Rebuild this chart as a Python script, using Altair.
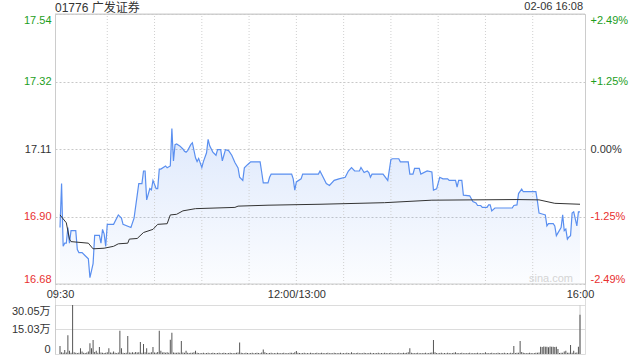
import altair as alt
import pandas as pd

# ---------------- data ----------------
price_minutes = [0,1,2,3,4,5,6,7,9,10,11,12,14,16,18,19,21,22,25,26,27,28,29,30,32,34,37,39,40,45,47,49,50,52,53,54,55,57,58,59,61,62,63,64,67,68,70,71,72,73,74,76,78,79,80,81,83,84,86,87,88,90,91,93,94,95,97,99,100,102,103,104,105,107,109,111,113,114,116,117,119,121,127,128,129,132,133,134,147,148,149,150,153,154,164,165,167,169,171,174,177,181,183,185,187,190,191,193,195,196,197,198,205,208,210,211,215,216,221,222,224,225,228,229,233,236,237,239,241,243,246,247,251,252,253,255,256,260,262,264,265,267,268,271,272,273,274,276,287,288,290,291,293,294,302,303,304,306,308,309,310,313,314,315,318,319,320,321,322,323,324,325,326,328,329,330]
price_values = [16.86,17.00,16.80,16.81,16.81,16.86,16.81,16.85,16.85,16.85,16.79,16.78,16.78,16.77,16.76,16.70,16.745,16.835,16.835,16.81,16.854,16.84,16.80,16.87,16.87,16.87,16.90,16.89,16.87,16.86,16.89,16.963,17.00,17.00,17.04,17.04,16.948,16.984,16.98,17.01,16.984,16.984,17.046,17.046,17.056,17.05,17.056,17.175,17.072,17.124,17.126,17.12,17.11,17.103,17.10,17.105,17.124,17.13,17.082,17.07,17.08,17.051,17.07,17.098,17.141,17.12,17.10,17.09,17.108,17.108,17.072,17.09,17.108,17.105,17.09,17.067,17.05,17.02,17.01,17.05,17.06,17.069,17.069,17.036,17.002,17.002,17.02,17.03,17.03,17.015,16.979,17.005,17.015,17.03,17.03,17.04,17.02,17.00,16.994,17.01,17.015,17.02,17.04,17.051,17.04,17.04,17.051,17.035,17.04,17.035,17.02,17.03,17.03,17.01,17.077,17.079,17.079,17.069,17.069,17.03,17.03,17.048,17.048,17.03,17.04,17.037,16.979,16.983,17.02,17.015,17.015,17.01,17.01,16.989,17.01,17.01,16.963,16.961,16.943,16.938,16.93,16.93,16.924,16.924,16.932,16.932,16.913,16.922,16.922,16.93,16.932,16.968,16.982,16.974,16.974,16.943,16.906,16.903,16.90,16.865,16.872,16.872,16.865,16.834,16.86,16.90,16.85,16.855,16.823,16.83,16.834,16.906,16.91,16.865,16.91,16.91]

avg_minutes = [0,4,6,7,18,21,28,34,37,43,44,49,53,59,62,68,70,74,78,86,111,113,132,165,206,236,290,304,314,330]
avg_values = [16.90,16.875,16.823,16.815,16.81,16.792,16.794,16.80,16.808,16.81,16.823,16.825,16.844,16.854,16.87,16.872,16.90,16.902,16.913,16.92,16.924,16.928,16.931,16.934,16.939,16.947,16.949,16.948,16.937,16.934]

# volume per minute, in 万 (10k shares), minute 0 .. 330
volume_wan = [
    4.9, 1.0, 0.8, 2.5, 0.9, 11.5, 2.0, 0.8, 30.0, 1.0,
    0.7, 0.6, 0.8, 3.5, 1.5, 0.7, 0.6, 0.9, 1.5, 6.6,
    3.5, 8.6, 1.2, 2.0, 0.8, 4.3, 0.9, 0.7, 0.6, 0.8,
    1.0, 3.5, 0.9, 0.8, 1.5, 0.7, 0.6, 0.9, 14.2, 3.5,
    0.8, 0.6, 0.7, 11.0, 0.9, 0.7, 1.0, 0.8, 1.2, 0.9,
    1.0, 7.4, 0.8, 6.2, 1.0, 3.5, 0.8, 0.7, 1.0, 4.3,
    0.9, 0.8, 1.2, 14.2, 2.0, 0.9, 1.0, 0.8, 1.0, 0.7,
    8.8, 13.1, 0.9, 0.8, 0.7, 0.9, 0.8, 8.0, 0.9, 0.8,
    2.0, 0.7, 0.6, 0.8, 0.7, 1.0, 2.0, 0.7, 0.6, 0.5,
    0.6, 0.7, 0.5, 0.6, 0.7, 0.5, 0.6, 0.7, 0.6, 0.5,
    0.6, 0.7, 0.5, 0.6, 0.7, 0.6, 0.5, 0.6, 0.8, 0.6,
    0.5, 0.6, 0.7, 0.9, 7.0, 0.8, 0.6, 0.5, 0.7, 0.6,
    0.5, 0.6, 0.7, 0.5, 0.6, 0.8, 0.6, 0.5, 0.9, 2.8,
    1.0, 0.6, 0.5, 0.6, 0.7, 0.5, 0.6, 0.5, 0.7, 0.6,
    0.5, 0.6, 0.7, 0.5, 0.6, 0.5, 0.7, 0.8, 0.6, 1.0,
    1.8, 0.7, 0.6, 0.5, 0.6, 0.7, 0.5, 0.6, 0.5, 0.7,
    0.6, 0.5, 0.6, 0.7, 0.5, 0.6, 0.8, 0.6, 0.5, 0.6,
    0.7, 0.5, 0.6, 0.5, 0.7, 0.6, 0.5, 0.6, 0.7, 0.5,
    0.6, 0.5, 0.7, 0.6, 0.5, 1.0, 0.6, 0.5, 0.6, 0.7,
    0.5, 0.6, 0.5, 0.7, 0.6, 0.5, 0.6, 0.7, 0.5, 0.6,
    0.5, 0.6, 0.7, 0.5, 0.6, 0.5, 0.7, 0.6, 0.5, 0.6,
    0.7, 0.5, 0.6, 0.5, 0.6, 0.7, 0.5, 0.6, 0.8, 0.6,
    0.7, 1.0, 3.5, 0.8, 0.6, 0.5, 0.6, 0.7, 0.5, 0.6,
    0.5, 0.6, 0.7, 0.5, 0.6, 0.8, 0.9, 8.6, 1.0, 0.6,
    0.5, 0.6, 0.7, 0.5, 0.6, 0.5, 0.7, 0.6, 0.5, 0.6,
    0.7, 1.0, 0.6, 0.5, 0.6, 0.7, 0.5, 0.6, 0.5, 0.6,
    0.7, 0.5, 0.6, 0.5, 0.6, 0.7, 0.5, 0.6, 0.5, 0.6,
    1.0, 0.6, 0.5, 0.6, 0.7, 0.5, 0.6, 0.5, 0.7, 0.6,
    0.5, 0.6, 0.7, 0.5, 0.6, 0.5, 0.8, 0.6, 4.9, 0.6,
    0.8, 0.7, 8.0, 1.2, 0.7, 0.6, 0.5, 0.6, 0.7, 0.6,
    0.5, 0.6, 0.7, 0.8, 0.9, 4.5, 4.3, 4.6, 4.4, 4.5,
    4.2, 4.6, 4.4, 4.5, 4.3, 4.4, 3.0, 0.6, 0.7, 0.8,
    1.5, 2.0, 0.7, 0.8, 5.5, 0.8, 2.0, 0.7, 0.9, 4.5, 24.0,
]

prev_close = 17.11
price_ticks = [16.68, 16.895, 17.11, 17.325, 17.54]
price_labels = ["16.68", "16.90", "17.11", "17.32", "17.54"]
pct_labels = ["-2.49%", "-1.25%", "0.00%", "+1.25%", "+2.49%"]
time_ticks = [0, 150, 330]
time_labels = ["09:30", "12:00/13:00", "16:00"]
grid_minutes = [30, 60, 90, 120, 150, 180, 210, 240, 270, 300]
vol_ticks = [0, 15.03, 30.05]
vol_labels = ["0", "15.03万", "30.05万"]
title_text = "01776 广发证券"
date_text = "02-06 16:08"
watermark = "sina.com"

# ---------------- styling ----------------
FONT = "Liberation Sans, Arial, Noto Sans CJK SC"
GREEN = "#1d9e1d"
RED = "#e8302f"
DARK = "#333333"
BORDER = "#cccccc"
LINE = "#5a8ff0"


def label_expr(vals, labels):
    expr = "'%s'" % labels[-1]
    for v, l in reversed(list(zip(vals[:-1], labels[:-1]))):
        expr = "abs(datum.value - %s) < 1e-6 ? '%s' : %s" % (v, l, expr)
    return expr


color_cond = {
    "condition": [
        {"test": "datum.value > %s" % (prev_close + 0.001), "value": GREEN},
        {"test": "datum.value < %s" % (prev_close - 0.001), "value": RED},
    ],
    "value": DARK,
}

price_df = pd.DataFrame({"minute": price_minutes, "price": price_values})
avg_df = pd.DataFrame({"minute": avg_minutes, "avg": avg_values})
vol_df = pd.DataFrame({"minute": list(range(len(volume_wan))), "vol": volume_wan})
grid_df = pd.DataFrame({"minute": grid_minutes,
                        "lo": [price_ticks[0]] * len(grid_minutes),
                        "hi": [price_ticks[-1]] * len(grid_minutes)})
edge_df = pd.DataFrame({"price": [price_ticks[0], price_ticks[-1]]})
vol_edge_df = pd.DataFrame({"minute": [time_ticks[-1]], "lo": [vol_ticks[0]], "hi": [vol_ticks[-1]]})
text_df = pd.DataFrame({"t": [0]})

x_scale = alt.Scale(domain=[0, 330], nice=False, zero=False)
price_scale = alt.Scale(domain=[price_ticks[0], price_ticks[-1]], range=[270, 0], nice=False, zero=False)
vol_scale = alt.Scale(domain=[0, vol_ticks[-1]], range=[340, 291], nice=False)

x_axis = alt.Axis(
    orient="bottom", offset=-70, values=time_ticks, labelExpr=label_expr(time_ticks, time_labels),
    labelFlush=True, grid=False, ticks=False, domain=False, labelPadding=4,
    labelColor=DARK, labelFontSize=11, labelFont=FONT, title=None,
)
X = alt.X("minute:Q", scale=x_scale, axis=x_axis)

price_axis = alt.Axis(
    orient="left", values=price_ticks, labelExpr=label_expr(price_ticks, price_labels),
    labelColor=color_cond, labelFlush=True, labelPadding=4, ticks=False,
    domain=True, domainColor=BORDER, grid=True, gridColor="#c8c8c8", gridDash=[2, 2],
    labelFontSize=11, labelFont=FONT, title=None,
)
YP = alt.Y("price:Q", scale=price_scale, axis=price_axis)

area = alt.Chart(price_df).mark_area(
    line=False,
    color=alt.Gradient(
        gradient="linear",
        stops=[alt.GradientStop(color="rgba(90,143,240,0.20)", offset=0),
               alt.GradientStop(color="rgba(90,143,240,0.02)", offset=1)],
        x1=0, x2=0, y1=0, y2=1,
    ),
).encode(x=X, y=YP, y2=alt.datum(price_ticks[0]))

vgrid = alt.Chart(grid_df).mark_rule(color="#d0d0d0", strokeDash=[1, 2], strokeWidth=1).encode(
    x=X, y=alt.Y("lo:Q", scale=price_scale, axis=price_axis), y2="hi:Q"
)

edges = alt.Chart(edge_df).mark_rule(color=BORDER, strokeWidth=1).encode(y=YP)

line = alt.Chart(price_df).mark_line(color=LINE, strokeWidth=1.2, interpolate="linear").encode(x=X, y=YP)

title_mark = alt.Chart(text_df).mark_text(
    text=title_text, align="left", baseline="middle", fontSize=12, font=FONT, color=DARK
).encode(x=alt.value(0), y=alt.value(-6))
date_mark = alt.Chart(text_df).mark_text(
    text=date_text, align="right", baseline="middle", fontSize=11, font=FONT, color=DARK
).encode(x=alt.value(528), y=alt.value(-7))
wm_mark = alt.Chart(text_df).mark_text(
    text=watermark, align="right", baseline="middle", fontSize=11, font=FONT, color="#d4d4d4"
).encode(x=alt.value(518), y=alt.value(265))

price_layer = alt.layer(area, vgrid, edges, wm_mark, line, title_mark, date_mark)

pct_axis = alt.Axis(
    orient="right", values=price_ticks, labelExpr=label_expr(price_ticks, pct_labels),
    labelColor=color_cond, labelFlush=True, labelPadding=5, ticks=False,
    domain=True, domainColor=BORDER, grid=False, labelFontSize=11, labelFont=FONT, title=None,
)
avg_line = alt.Chart(avg_df).mark_line(color=DARK, strokeWidth=1).encode(
    x=X, y=alt.Y("avg:Q", scale=price_scale, axis=pct_axis)
)

vol_axis = alt.Axis(
    orient="left", values=vol_ticks, labelExpr=label_expr(vol_ticks, vol_labels),
    labelColor=DARK, labelFlush=True, labelPadding=5, ticks=False,
    domain=True, domainColor=BORDER, grid=True, gridColor="#b8b8b8", gridDash=[1, 1],
    gridOpacity={"condition": {"test": "datum.value == 0", "value": 0}, "value": 1},
    labelFontSize=11, labelFont=FONT, title=None,
)
bars = alt.Chart(vol_df).mark_bar(size=1, color="#555555").encode(
    x=X, y=alt.Y("vol:Q", scale=vol_scale, axis=vol_axis)
)
vol_right = alt.Chart(vol_edge_df).mark_rule(color=BORDER).encode(
    x=X, y=alt.Y("lo:Q", scale=vol_scale, axis=vol_axis), y2="hi:Q"
)
vol_layer = alt.layer(vol_right, bars)

chart = alt.layer(price_layer, avg_line, vol_layer).resolve_scale(y="independent").properties(
    width=530, height=340,
    padding={"left": 55, "top": 14, "right": 55, "bottom": 6},
    autosize=alt.AutoSizeParams(type="none"),
).configure_view(stroke="transparent").configure(font=FONT)

chart.save("out.html", embed_options={"renderer": "svg", "actions": False})
